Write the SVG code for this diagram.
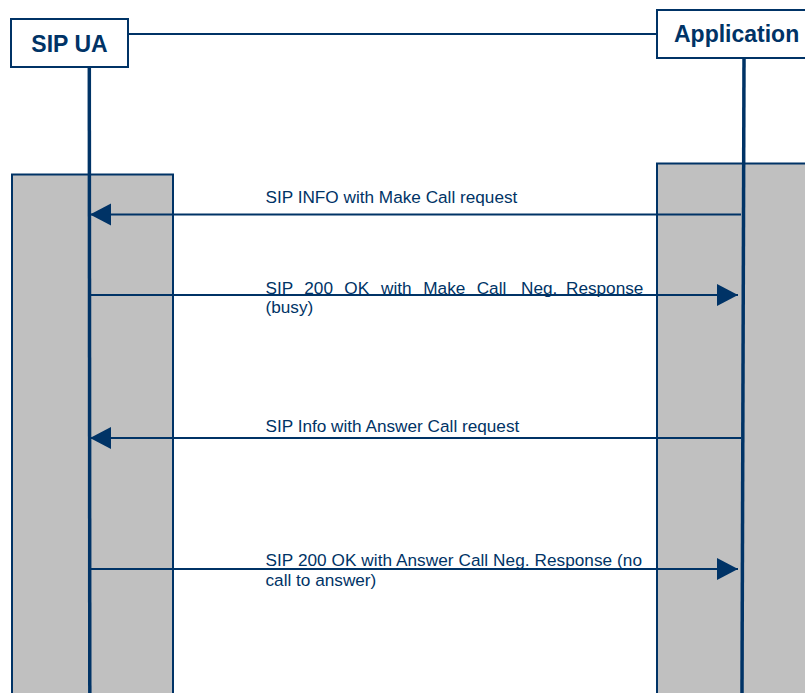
<svg xmlns="http://www.w3.org/2000/svg" width="805" height="693" viewBox="0 0 805 693">
<defs>
<style>
.bar{fill:#c0c0c0;stroke:#003366;stroke-width:2}
.head{fill:#ffffff;stroke:#003366;stroke-width:2}
.life{stroke:#003366;stroke-width:3.5;fill:none}
.msg{stroke:#003366;stroke-width:2;fill:none}
.title{font-family:"Liberation Sans",Arial,sans-serif;font-weight:bold;font-size:23px;fill:#003366}
.lbl{font-family:"Liberation Sans",Arial,sans-serif;font-size:17.2px;fill:#003366}
</style>
<marker id="arr" markerWidth="22" markerHeight="24" refX="21" refY="12" orient="auto" markerUnits="userSpaceOnUse">
<path d="M0,1 L21,12 L0,23 Z" fill="#003366"/>
</marker>
</defs>
<rect width="805" height="693" fill="#ffffff"/>
<g id="top-link">
<line x1="128" y1="34" x2="657" y2="34" class="msg"/>
</g>
<g id="sip-ua">
<rect x="12" y="174.5" width="161" height="530" class="bar"/>
<rect x="11" y="19" width="117" height="48" class="head"/>
<text x="69.5" y="51.5" text-anchor="middle" class="title">SIP UA</text>
<line x1="89.3" y1="67" x2="89.8" y2="693" class="life"/>
</g>
<g id="application">
<rect x="657" y="163.5" width="160" height="540" class="bar"/>
<rect x="657" y="10" width="160" height="48" class="head"/>
<text x="674" y="41.5" class="title">Application</text>
<line x1="744" y1="58" x2="742" y2="693" class="life"/>
</g>
<g id="connectors">
<line x1="741" y1="214.5" x2="90" y2="214.5" class="msg" marker-end="url(#arr)"/>
<line x1="89" y1="295" x2="738" y2="295" class="msg" marker-end="url(#arr)"/>
<line x1="741" y1="438" x2="90" y2="438" class="msg" marker-end="url(#arr)"/>
<line x1="89" y1="569" x2="738" y2="569" class="msg" marker-end="url(#arr)"/>
</g>
<g id="labels">
<text x="265.5" y="203" class="lbl">SIP INFO with Make Call request</text>
<text y="294" class="lbl"><tspan x="265.5">SIP</tspan><tspan x="304.3">200</tspan><tspan x="344.3">OK</tspan><tspan x="381">with</tspan><tspan x="423.3">Make</tspan><tspan x="476.7">Call</tspan><tspan x="521">Neg.</tspan><tspan x="566">Response</tspan></text>
<text x="265.5" y="313" class="lbl">(busy)</text>
<text x="265.5" y="432" class="lbl">SIP Info with Answer Call request</text>
<text x="265.5" y="566" class="lbl" textLength="376.5" lengthAdjust="spacing">SIP 200 OK with Answer Call Neg. Response (no</text>
<text x="265.5" y="586" class="lbl">call to answer)</text>
</g>
</svg>
